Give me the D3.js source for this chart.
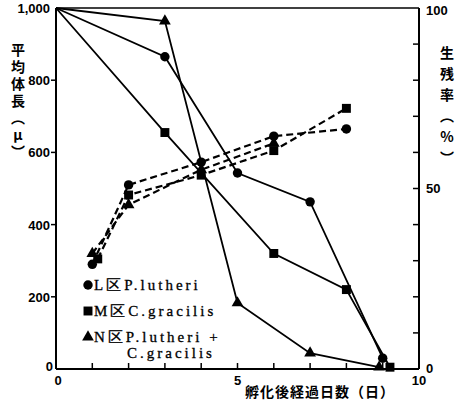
<!DOCTYPE html>
<html>
<head>
<meta charset="utf-8">
<script src="https://cdn.jsdelivr.net/npm/d3@7"></script>
<style>
  body { margin: 0; background: #fff; }
  svg { display: block; }
  .num { font-family: "Liberation Sans", Arial, sans-serif; font-weight: bold; font-size: 13px; }
  .jp { font-family: "Noto Sans CJK JP", sans-serif; font-weight: bold; font-size: 14px; }
  .vt { writing-mode: vertical-rl; text-orientation: upright; }
  .leg { font-family: "Liberation Serif", serif; font-size: 15px; letter-spacing: 3px; stroke: #000; stroke-width: 0.3px; }
</style>
</head>
<body>
<svg width="466" height="406"></svg>
<script>
// Survival rate (%), solid lines
const survL = [[0, 100], [3, 86.5], [5, 54.3], [7, 46.3], [9, 3]];
const survM = [[0, 100], [3, 65.5], [6, 32], [8, 22], [9.2, 0.5]];
const survN = [[0, 100], [3, 96.4], [5, 18.3], [7, 4.4], [8.9, 0.5]];

// Mean body length (μ), dashed lines
const lenL = [[1, 290], [2, 510], [4, 573], [6, 645], [8, 665]];
const lenM = [[1.15, 305], [2, 482], [4, 537], [6, 605], [8, 722]];
const lenN = [[1, 320], [2, 455], [4, 552], [6, 625]];

const xTickLabels = [0, 5, 10];
const leftTicks = [0, 200, 400, 600, 800, 1000];
const rightTickLabels = [0, 50, 100];

const legendRows = [
  { shape: "circle", text: "L区P.lutheri" },
  { shape: "square", text: "M区C.gracilis" },
  { shape: "triangle", text: "N区P.lutheri +" }
];

const svg = d3.select("svg");
const m = { left: 56, right: 47, top: 8, bottom: 37 };
const W = 466, H = 406;

const x = d3.scaleLinear().domain([0, 10]).range([m.left, W - m.right]);
const yL = d3.scaleLinear().domain([0, 1000]).range([H - m.bottom, m.top]);
const yR = d3.scaleLinear().domain([0, 100]).range([H - m.bottom, m.top]);

// frame: left, bottom, right, top
const g = svg.append("g");
g.append("line").attr("x1", x(0)).attr("x2", x(0)).attr("y1", yL(0)).attr("y2", yL(1000))
  .attr("stroke", "#000").attr("stroke-width", 2);
g.append("line").attr("x1", x(0)).attr("x2", x(10)).attr("y1", yL(0)).attr("y2", yL(0))
  .attr("stroke", "#000").attr("stroke-width", 2);
g.append("line").attr("x1", x(10)).attr("x2", x(10)).attr("y1", yL(0)).attr("y2", yL(1000))
  .attr("stroke", "#000").attr("stroke-width", 2);
g.append("line").attr("x1", x(0)).attr("x2", x(10)).attr("y1", yL(1000)).attr("y2", yL(1000))
  .attr("stroke", "#000").attr("stroke-width", 1.5);

// x ticks (inward, every day)
g.selectAll(".xt").data(d3.range(1, 10)).enter().append("line")
  .attr("x1", d => x(d)).attr("x2", d => x(d))
  .attr("y1", yL(0)).attr("y2", yL(0) - 6)
  .attr("stroke", "#000").attr("stroke-width", 1.5);
g.selectAll(".xl").data(xTickLabels).enter().append("text")
  .attr("class", "num")
  .attr("x", d => x(d) + (d === 0 ? 2 : 0)).attr("y", yL(0) + 16)
  .attr("text-anchor", "middle").text(d => d);

// left ticks (outward)
g.selectAll(".yt").data(leftTicks.filter(d => d > 0 && d < 1000)).enter().append("line")
  .attr("x1", x(0) - 5).attr("x2", x(0))
  .attr("y1", d => yL(d)).attr("y2", d => yL(d))
  .attr("stroke", "#000").attr("stroke-width", 1.5);
g.selectAll(".yl").data(leftTicks).enter().append("text")
  .attr("class", "num")
  .attr("x", d => d === 0 ? x(0) - 3 : x(0) - 6)
  .attr("y", d => d === 0 ? yL(d) + 2 : yL(d) + 5)
  .attr("text-anchor", "end")
  .text(d => d3.format(",")(d));

// right ticks (inward, every 10%)
g.selectAll(".rt").data(d3.range(10, 100, 10)).enter().append("line")
  .attr("x1", x(10) - 6).attr("x2", x(10))
  .attr("y1", d => yR(d)).attr("y2", d => yR(d))
  .attr("stroke", "#000").attr("stroke-width", 1.5);
g.selectAll(".rl").data(rightTickLabels).enter().append("text")
  .attr("class", "num")
  .attr("x", x(10) + 7)
  .attr("y", d => d === 100 ? yR(d) + 7 : yR(d) + 4)
  .text(d => d);

// axis titles (vertical)
g.append("text").attr("class", "jp vt")
  .attr("x", 18).attr("y", 43)
  .attr("letter-spacing", "3px")
  .text("平均体長（μ）");
g.append("text").attr("class", "jp vt")
  .attr("x", 447).attr("y", 46)
  .attr("letter-spacing", "7px")
  .text("生残率（%）");
g.append("text").attr("class", "jp")
  .attr("x", 320).attr("y", 397).attr("text-anchor", "middle")
  .attr("letter-spacing", "1px")
  .text("孵化後経過日数（日）");

// series
const lineR = d3.line().x(d => x(d[0])).y(d => yR(d[1]));
const lineL = d3.line().x(d => x(d[0])).y(d => yL(d[1]));

const sym = {
  circle: d3.symbol().type(d3.symbolCircle).size(70),
  square: d3.symbol().type(d3.symbolSquare).size(80),
  triangle: d3.symbol().type(d3.symbolTriangle).size(60)
};

function drawSeries(data, line, yScale, shape, dashed) {
  g.append("path").datum(data)
    .attr("d", line).attr("fill", "none").attr("stroke", "#000")
    .attr("stroke-width", dashed ? 2.2 : 1.8)
    .attr("stroke-dasharray", dashed ? "7,4" : null);
  g.selectAll(null).data(data.filter(d => d[0] > 0)).enter().append("path")
    .attr("d", sym[shape])
    .attr("transform", d => `translate(${x(d[0])},${yScale(d[1])})`)
    .attr("fill", "#000");
}

drawSeries(survL, lineR, yR, "circle", false);
drawSeries(survM, lineR, yR, "square", false);
drawSeries(survN, lineR, yR, "triangle", false);
drawSeries(lenL, lineL, yL, "circle", true);
drawSeries(lenM, lineL, yL, "square", true);
drawSeries(lenN, lineL, yL, "triangle", true);

// legend
const leg = g.append("g");
legendRows.forEach((r, i) => {
  const yy = 290 + i * 26;
  leg.append("path").attr("d", sym[r.shape])
    .attr("transform", `translate(88,${yy - 5})`).attr("fill", "#000");
  leg.append("text").attr("class", "leg").attr("x", 94).attr("y", yy).text(r.text);
});
leg.append("text").attr("class", "leg").attr("x", 127).attr("y", 358).text("C.gracilis");
</script>
</body>
</html>
